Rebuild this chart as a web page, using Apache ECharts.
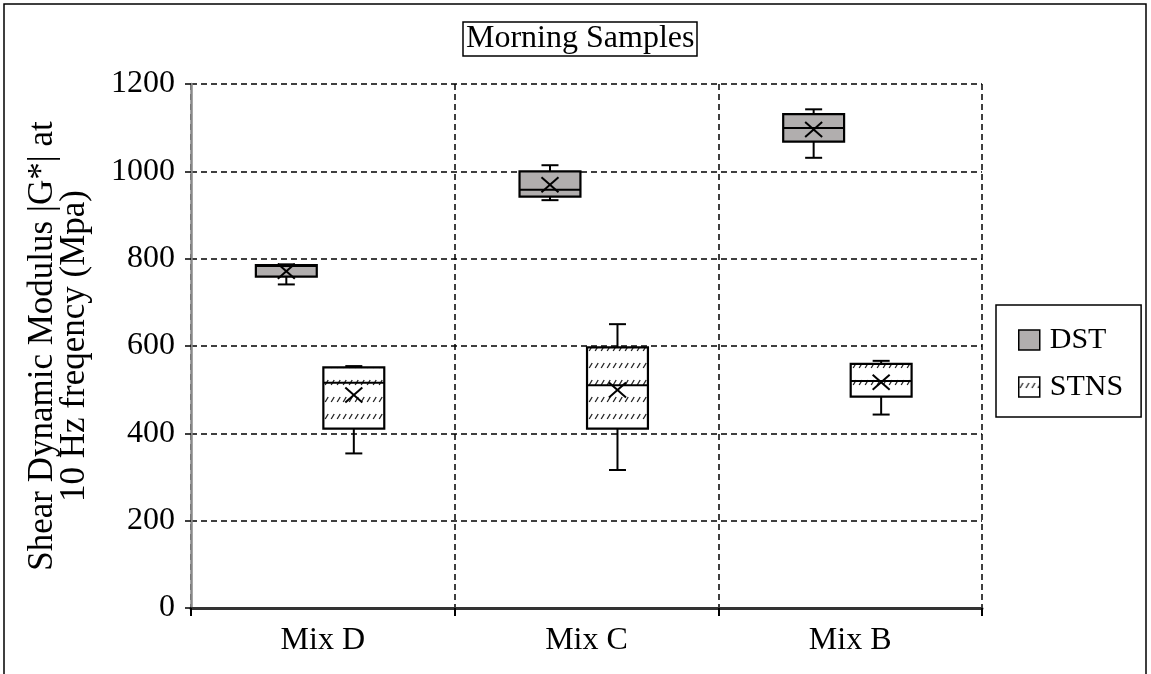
<!DOCTYPE html>
<html>
<head>
<meta charset="utf-8">
<script src="https://cdn.jsdelivr.net/npm/echarts@6/dist/echarts.min.js"></script>
<style>
  html, body { margin: 0; padding: 0; background: #fff; }
  #chart { width: 1151px; height: 674px; }
</style>
</head>
<body>
<div id="chart"></div>
<script>
// Mix categories along the x axis
const categories = ['Mix D', 'Mix C', 'Mix B'];

// Box statistics per mix: [min, Q1, median, Q3, max]
const dstStats = [
  [741, 759, 783, 785, 787],
  [934, 942, 958, 1000, 1014],
  [1031, 1068, 1099, 1131, 1142]
];
const dstMeans = [771, 969, 1096];

const stnsStats = [
  [354, 411, 516, 551, 554],
  [316, 411, 510, 597, 650],
  [443, 484, 520, 559, 566]
];
const stnsMeans = [488, 499, 517];

const yTicks = [0, 200, 400, 600, 800, 1000, 1200];

const FONT = '"Liberation Serif", "Times New Roman", serif';

// Hatched fill for the STNS boxes: rows of small slashes
function makeHatch() {
  const c = document.createElement('canvas');
  c.width = 6; c.height = 17;
  const ctx = c.getContext('2d');
  ctx.fillStyle = '#fff';
  ctx.fillRect(0, 0, 6, 17);
  ctx.strokeStyle = '#222';
  ctx.lineWidth = 1.3;
  ctx.beginPath();
  ctx.moveTo(1.2, 11);
  ctx.lineTo(4.2, 6);
  ctx.stroke();
  return c;
}
const hatch = { image: makeHatch(), repeat: 'repeat' };
const dstFill = '#b1aeae';

function rows(stats, means) {
  return stats.map((s, i) => [i].concat(s, [means[i]]));
}

// Draws one box with whiskers, median and a mean cross, offset within the band
function boxRenderer(offsetFrac, widthFrac, fill) {
  return function (params, api) {
    const idx = api.value(0);
    const band = api.size([1, 0])[0];
    const xc = api.coord([idx, 0])[0] + offsetFrac * band;
    const w = widthFrac * band;
    const y = v => api.coord([idx, v])[1];
    const lo = y(api.value(1)), q1 = y(api.value(2)), med = y(api.value(3)),
          q3 = y(api.value(4)), hi = y(api.value(5)), mean = y(api.value(6));
    const cap = 8.5, xs = 8.5, ys = 7.5;
    const line = { stroke: '#000', lineWidth: 2 };
    return {
      type: 'group',
      children: [
        { type: 'line', shape: { x1: xc, y1: q3, x2: xc, y2: hi }, style: line },
        { type: 'line', shape: { x1: xc, y1: q1, x2: xc, y2: lo }, style: line },
        { type: 'line', shape: { x1: xc - cap, y1: hi, x2: xc + cap, y2: hi }, style: line },
        { type: 'line', shape: { x1: xc - cap, y1: lo, x2: xc + cap, y2: lo }, style: line },
        { type: 'rect', shape: { x: xc - w / 2, y: q3, width: w, height: q1 - q3 },
          style: { fill: fill, stroke: '#000', lineWidth: 2.2 } },
        { type: 'line', shape: { x1: xc - w / 2, y1: med, x2: xc + w / 2, y2: med }, style: line },
        { type: 'line', shape: { x1: xc - xs, y1: mean - ys, x2: xc + xs, y2: mean + ys }, style: line },
        { type: 'line', shape: { x1: xc - xs, y1: mean + ys, x2: xc + xs, y2: mean - ys }, style: line }
      ]
    };
  };
}

const chart = echarts.init(document.getElementById('chart'), null, { renderer: 'canvas' });

chart.setOption({
  backgroundColor: '#fff',
  animation: false,
  title: {
    text: 'Morning Samples',
    left: 463,
    top: 22,
    padding: [1, 3, 1, 3],
    borderColor: '#000',
    borderWidth: 1.5,
    textStyle: { fontFamily: FONT, fontSize: 32, fontWeight: 'normal', color: '#000' }
  },
  legend: {
    orient: 'vertical',
    left: 996,
    top: 305,
    padding: [20, 18, 15, 22],
    itemGap: 17,
    itemWidth: 21,
    itemHeight: 20,
    borderColor: '#000',
    borderWidth: 1.5,
    icon: 'rect',
    textStyle: { fontFamily: FONT, fontSize: 30, color: '#000', padding: [0, 0, 0, 5] },
    data: [
      { name: 'DST', itemStyle: { color: dstFill, borderColor: '#000', borderWidth: 1.5 } },
      { name: 'STNS', itemStyle: { color: hatch, borderColor: '#000', borderWidth: 1.5 } }
    ]
  },
  graphic: [
    { type: 'rect', silent: true, shape: { x: 4, y: 4, width: 1142, height: 700 },
      style: { fill: 'none', stroke: '#000', lineWidth: 1.5 } }
  ],
  grid: { left: 191, right: 169, top: 84, bottom: 66 },
  xAxis: {
    type: 'category',
    data: categories,
    boundaryGap: true,
    axisLine: { lineStyle: { color: '#333', width: 3 } },
    axisTick: { show: true, length: 8, lineStyle: { color: '#000', width: 2 } },
    axisLabel: { fontFamily: FONT, fontSize: 32, color: '#000', margin: 17 },
    splitLine: { show: true, lineStyle: { color: '#000', type: [6, 4], width: 1.5 } }
  },
  yAxis: {
    type: 'value',
    min: yTicks[0],
    max: yTicks[yTicks.length - 1],
    interval: 200,
    name: 'Shear Dynamic Modulus |G*| at\n10 Hz freqency (Mpa)',
    nameLocation: 'middle',
    nameRotate: 90,
    nameGap: 100,
    nameTextStyle: { fontFamily: FONT, fontSize: 35, color: '#000', lineHeight: 32 },
    axisLine: { show: true, lineStyle: { color: '#8a8a8a', width: 2.5 } },
    axisTick: { show: true, length: 6, lineStyle: { color: '#000', width: 1.5 } },
    axisLabel: {
      fontFamily: FONT, fontSize: 32, color: '#000', margin: 16,
      formatter: v => String(v)
    },
    splitLine: { show: true, lineStyle: { color: '#000', type: [6, 4], width: 1.5 } }
  },
  series: [
    {
      name: 'DST',
      type: 'custom',
      renderItem: boxRenderer(-0.1385, 0.231, dstFill),
      itemStyle: { color: dstFill, borderColor: '#000', borderWidth: 1.5 },
      encode: { x: 0, y: [1, 2, 3, 4, 5, 6] },
      data: rows(dstStats, dstMeans),
      z: 5
    },
    {
      name: 'STNS',
      type: 'custom',
      renderItem: boxRenderer(0.1175, 0.231, hatch),
      itemStyle: { color: hatch, borderColor: '#000', borderWidth: 1.5 },
      encode: { x: 0, y: [1, 2, 3, 4, 5, 6] },
      data: rows(stnsStats, stnsMeans),
      z: 5
    }
  ]
});
</script>
</body>
</html>
